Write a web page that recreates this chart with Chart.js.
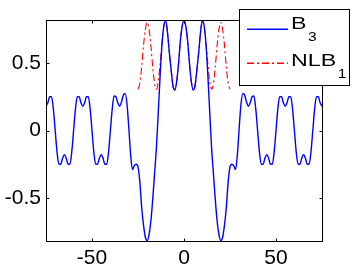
<!DOCTYPE html>
<html>
<head>
<meta charset="utf-8">
<script src="https://cdn.jsdelivr.net/npm/chart.js@4"></script>
<style>
  body { margin: 0; background: #fff; }
  #wrap { width: 355px; height: 271px; position: relative; }
</style>
</head>
<body>
<div id="wrap"><canvas id="plot"></canvas></div>
<script>
// x grid of the samples: -75 .. 75, step 1
const xStart = -75;
const xStep = 1;

// B3, x = -75 .. 75
const b3 = [
  0.18, 0.205, 0.25, 0.25, 0.16, 0, -0.16, -0.25, -0.25, -0.205,
  -0.18, -0.205, -0.25, -0.25, -0.16, 0, 0.16, 0.25, 0.25, 0.205,
  0.18, 0.205, 0.25, 0.25, 0.16, 0, -0.16, -0.25, -0.25, -0.205,
  -0.18, -0.205, -0.25, -0.25, -0.16, 0, 0.16, 0.255, 0.25, 0.205,
  0.18, 0.21, 0.26, 0.275, 0.20, 0.02, -0.18, -0.29, -0.26, -0.25,
  -0.27, -0.38, -0.57, -0.70, -0.79, -0.815, -0.77, -0.67, -0.51, -0.32,
  -0.13, 0.13, 0.40, 0.63, 0.77, 0.815, 0.73, 0.58, 0.45, 0.33,
  0.30, 0.36, 0.49, 0.66, 0.77, 0.815,
  0.77, 0.66, 0.49, 0.36, 0.30,
  0.33, 0.45, 0.58, 0.73, 0.815, 0.77, 0.63, 0.40, 0.13, -0.13,
  -0.32, -0.51, -0.67, -0.77, -0.815, -0.79, -0.70, -0.57, -0.38, -0.27,
  -0.25, -0.26, -0.29, -0.18, 0.02, 0.20, 0.275, 0.26, 0.21, 0.18,
  0.205, 0.25, 0.255, 0.16, 0, -0.16, -0.25, -0.25, -0.205, -0.18,
  -0.205, -0.25, -0.25, -0.16, 0, 0.16, 0.25, 0.25, 0.205, 0.18,
  0.205, 0.25, 0.25, 0.16, 0, -0.16, -0.25, -0.25, -0.205, -0.18,
  -0.205, -0.25, -0.25, -0.16, 0, 0.16, 0.25, 0.25, 0.205, 0.18
];

// NLB1, only x = -25 .. 25 (hidden under B3 between -10 and 10)
const nlbStart = -25;
const nlb1 = [
  0.305, 0.35, 0.47, 0.63, 0.75, 0.80, 0.75, 0.63, 0.47, 0.35,
  0.305, 0.36, 0.49, 0.64, 0.77, 0.815, 0.73, 0.58, 0.45, 0.33,
  0.30, 0.36, 0.49, 0.66, 0.77, 0.815, 0.77, 0.66, 0.49, 0.36,
  0.30, 0.33, 0.45, 0.58, 0.73, 0.815, 0.77, 0.64, 0.49, 0.36,
  0.305, 0.35, 0.47, 0.63, 0.75, 0.80, 0.75, 0.63, 0.47, 0.35,
  0.305
];

const xTicks = [-50, 0, 50];
const yTicks = [-0.5, 0, 0.5];
const xTickLabels = ['-50', '0', '50'];
const yTickLabels = ['-0.5', '0', '0.5'];
const seriesNames = ['B', 'NLB'];
const seriesSubs = ['3', '1'];

const toPoints = (vals, x0) => vals.map((v, i) => ({ x: x0 + i * xStep, y: v }));

Chart.defaults.font.family = '"Liberation Sans", Arial, sans-serif';
Chart.defaults.font.size = 21;
Chart.defaults.color = '#000';

const matlabBox = {
  id: 'matlabBox',
  afterDraw(chart) {
    const ctx = chart.ctx;
    const a = chart.chartArea;
    const xs = chart.scales.x, ys = chart.scales.y;
    const L = Math.round(a.left) + 0.5, R = Math.round(a.right) + 0.5;
    const T = Math.round(a.top) + 0.5, B = Math.round(a.bottom) + 0.5;
    ctx.save();
    ctx.strokeStyle = '#000';
    ctx.lineWidth = 1;
    ctx.strokeRect(L, T, R - L, B - T);
    ctx.beginPath();
    xTicks.forEach(v => {
      const px = Math.round(xs.getPixelForValue(v)) + 0.5;
      ctx.moveTo(px, B); ctx.lineTo(px, B - 3);
      ctx.moveTo(px, T); ctx.lineTo(px, T + 3);
    });
    yTicks.forEach(v => {
      const py = Math.round(ys.getPixelForValue(v)) + 0.5;
      ctx.moveTo(L, py); ctx.lineTo(L + 3, py);
      ctx.moveTo(R, py); ctx.lineTo(R - 3, py);
    });
    ctx.stroke();

    // legend box, top right, over the axes border
    const bx = 239.5, by = 9.5, bw = 110, bh = 76;
    ctx.fillStyle = '#fff';
    ctx.fillRect(bx, by, bw, bh);
    ctx.strokeRect(bx, by, bw, bh);

    // blue solid sample
    ctx.fillStyle = '#0000ff';
    ctx.fillRect(247, 28.5, 41, 1.5);
    // red dash-dot sample
    ctx.fillStyle = '#ff0000';
    const pattern = [7, 3, 2, 3];
    let px = 247, k = 0;
    while (px < 288) {
      const len = Math.min(pattern[k % 4], 288 - px);
      if (k % 2 === 0) ctx.fillRect(px, 62.5, len, 1.5);
      px += pattern[k % 4];
      k++;
    }

    const rows = [{ base: 28.5, subBase: 40.5 }, { base: 65.5, subBase: 78 }];
    rows.forEach((r, i) => {
      ctx.fillStyle = '#000';
      ctx.textBaseline = 'alphabetic';
      ctx.textAlign = 'left';
      const sx = 1.45;
      ctx.font = '16px "Liberation Sans"';
      const w = ctx.measureText(seriesNames[i]).width * sx;
      ctx.save();
      ctx.translate(291, r.base);
      ctx.scale(sx, 1);
      ctx.fillText(seriesNames[i], 0, 0);
      ctx.restore();
      ctx.save();
      ctx.font = '13px "Liberation Sans"';
      ctx.translate(291 + w + 1.5, r.subBase);
      ctx.scale(1.2, 1);
      ctx.fillText(seriesSubs[i], 0, 0);
      ctx.restore();
    });
    ctx.restore();
  }
};

new Chart(document.getElementById('plot'), {
  type: 'line',
  data: {
    datasets: [
      {
        label: 'B3',
        data: toPoints(b3, xStart),
        borderColor: '#0000ff',
        borderWidth: 1.4,
        pointRadius: 0,
        cubicInterpolationMode: 'monotone',
        fill: false,
        order: 0
      },
      {
        label: 'NLB1',
        data: toPoints(nlb1, nlbStart),
        borderColor: '#ff0000',
        borderWidth: 1.1,
        borderDash: [7, 3, 2, 3],
        pointRadius: 0,
        cubicInterpolationMode: 'monotone',
        fill: false,
        order: 1
      }
    ]
  },
  options: {
    responsive: true,
    maintainAspectRatio: false,
    animation: false,
    layout: { padding: { top: 20, right: 33, left: 0, bottom: 0 } },
    plugins: { legend: { display: false }, tooltip: { enabled: false } },
    scales: {
      x: {
        type: 'linear',
        min: -75, max: 75,
        grid: { display: false, drawTicks: false },
        border: { display: false },
        afterBuildTicks: s => { s.ticks = xTicks.map(v => ({ value: v })); },
        afterFit: s => { s.height = 30; },
        ticks: {
          padding: 5,
          maxRotation: 0,
          callback: (v) => xTickLabels[xTicks.indexOf(v)]
        }
      },
      y: {
        min: -0.818, max: 0.818,
        grid: { display: false, drawTicks: false },
        border: { display: false },
        afterBuildTicks: s => { s.ticks = yTicks.map(v => ({ value: v })); },
        afterFit: s => { s.width = 46; },
        ticks: {
          padding: 5,
          callback: (v) => yTickLabels[yTicks.indexOf(v)]
        }
      }
    }
  },
  plugins: [matlabBox]
});
</script>
</body>
</html>
